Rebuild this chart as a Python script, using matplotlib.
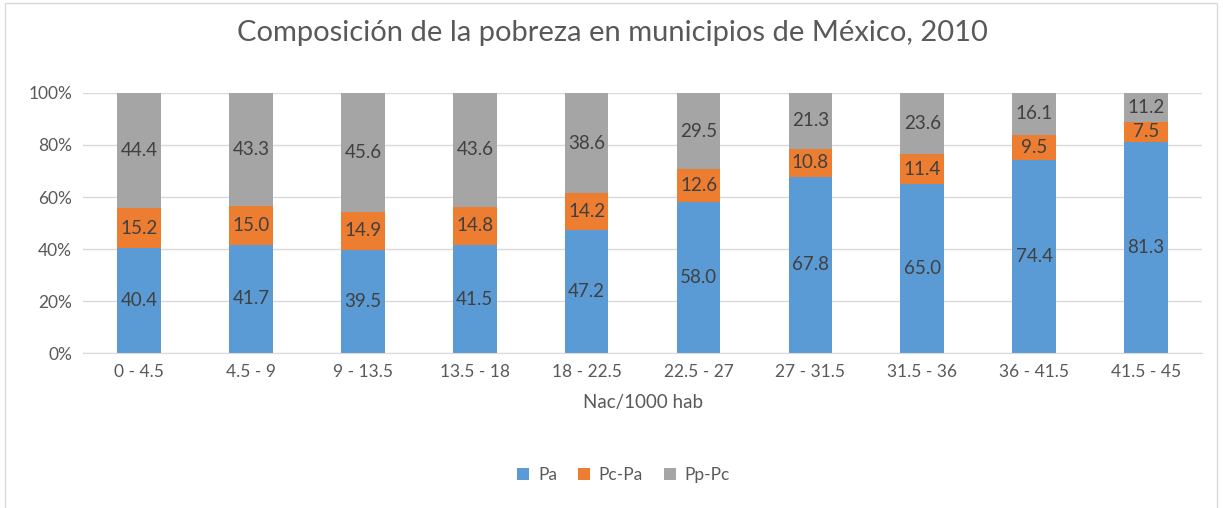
import matplotlib
matplotlib.use("Agg")
import matplotlib.pyplot as plt
import numpy as np
from matplotlib.patches import Rectangle

plt.rcParams['font.family'] = ['Lato', 'DejaVu Sans']

categories = ["0 - 4.5", "4.5 - 9", "9 - 13.5", "13.5 - 18", "18 - 22.5",
              "22.5 - 27", "27 - 31.5", "31.5 - 36", "36 - 41.5", "41.5 - 45"]
Pa = [40.4, 41.7, 39.5, 41.5, 47.2, 58.0, 67.8, 65.0, 74.4, 81.3]
PcPa = [15.2, 15.0, 14.9, 14.8, 14.2, 12.6, 10.8, 11.4, 9.5, 7.5]
PpPc = [44.4, 43.3, 45.6, 43.6, 38.6, 29.5, 21.3, 23.6, 16.1, 11.2]

fig = plt.figure(figsize=(12.24, 5.08), dpi=100)
ax = fig.add_axes([0.068, 0.305, 0.914, 0.512])

# chart border
fig.patches.append(Rectangle((0.004, -0.01), 0.99, 1.005, transform=fig.transFigure,
                             fill=False, edgecolor='#D9D9D9', linewidth=1))

x = np.arange(len(categories))
w = 0.39
series = [(Pa, '#5B9BD5', 'Pa'), (PcPa, '#ED7D31', 'Pc-Pa'), (PpPc, '#A5A5A5', 'Pp-Pc')]
bottom = np.zeros(len(categories))
for vals, col, lab in series:
    vals = np.array(vals)
    ax.bar(x, vals, w, bottom=bottom, color=col, label=lab, zorder=2)
    for xi, b, v in zip(x, bottom, vals):
        ax.text(xi, b + v / 2, '{:.1f}'.format(v), ha='center', va='center',
                fontsize=13.5, color='#404040', zorder=3)
    bottom = bottom + vals

ax.set_xlim(-0.5, len(categories) - 0.5)
ax.set_ylim(0, 100)
ax.set_yticks(range(0, 101, 20))
ax.set_yticklabels(['{}%'.format(v) for v in range(0, 101, 20)])
ax.set_xticks(x)
ax.set_xticklabels(categories)
ax.tick_params(axis='both', length=0, labelsize=12.5, colors='#595959', pad=8)
ax.grid(axis='y', color='#D9D9D9', linewidth=1, zorder=0)
for s in ['top', 'right', 'left']:
    ax.spines[s].set_visible(False)
ax.spines['bottom'].set_color('#D9D9D9')

ax.set_xlabel('Nac/1000 hab', fontsize=13.5, color='#595959', labelpad=10)
fig.suptitle('Composición de la pobreza en municipios de México, 2010',
             fontsize=21, color='#595959', y=0.96)

ax.legend(loc='center', bbox_to_anchor=(0.483, -0.47), ncol=3, frameon=False,
          fontsize=12.5, labelcolor='#595959', handlelength=0.7, handleheight=0.7,
          columnspacing=1.2, handletextpad=0.5)

fig.savefig('out.png', dpi=100)
